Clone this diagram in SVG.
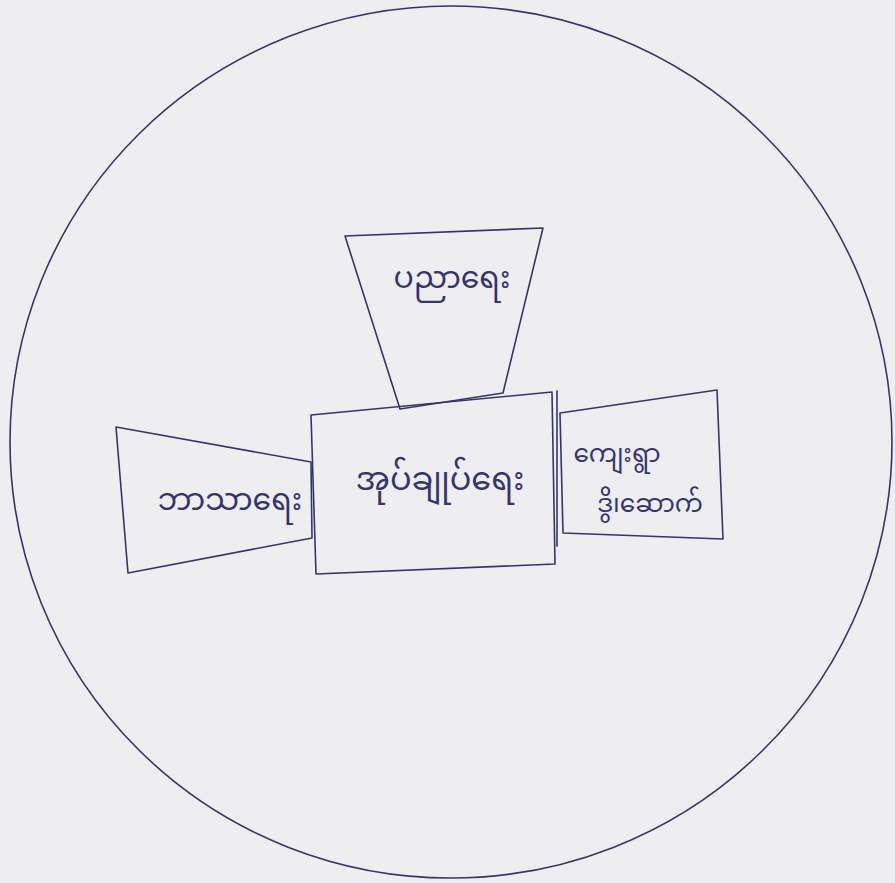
<svg xmlns="http://www.w3.org/2000/svg" width="895" height="883" viewBox="0 0 895 883">
<style>
.ln{fill:none;stroke:#35356e;stroke-width:1.6;stroke-linejoin:round;stroke-linecap:round}
.tx{font-family:"Noto Sans Myanmar","Padauk","Myanmar Text","Myanmar3","Noto Sans",sans-serif;fill:#35356e;font-size:30px}
.sm{font-size:25px}
</style>
<rect x="0" y="0" width="895" height="883" fill="#eeeef1"/>
<g id="boundary">
<ellipse class="ln" cx="451" cy="442" rx="441" ry="436"/>
</g>
<g id="connectors"/>
<g id="node-education">
<polygon class="ln" points="345,236 543,228 503,393 400,409"/>
<text class="tx" x="452" y="288" text-anchor="middle">ပညာရေး</text>
</g>
<g id="node-administration">
<polygon class="ln" points="311,415 552,392 555,564 316,574"/>
<text class="tx" x="440" y="490" text-anchor="middle" style="font-size:32px">အုပ်ချုပ်ရေး</text>
</g>
<g id="node-religion">
<polygon class="ln" points="116,427 311,462 312,538 128,573"/>
<text class="tx" x="230" y="510" text-anchor="middle">ဘာသာရေး</text>
</g>
<g id="node-village">
<polyline class="ln" points="557,391 557,546"/>
<polygon class="ln" points="560,413 717,390 723,539 563,533"/>
<text class="tx sm" x="617" y="462" text-anchor="middle">ကျေးရွာ</text>
<text class="tx sm" x="650" y="512" text-anchor="middle">ဒွိ၊ဆောက်</text>
</g>
</svg>
